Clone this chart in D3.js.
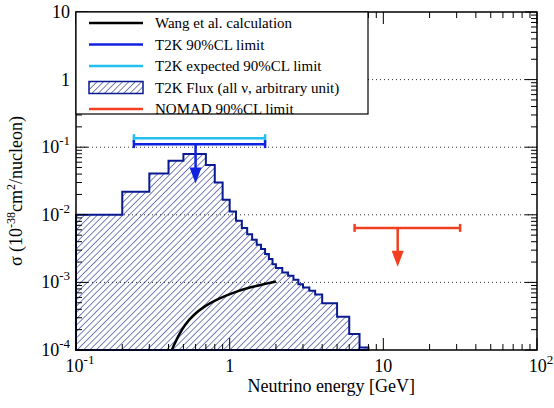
<!DOCTYPE html>
<html><head><meta charset="utf-8">
<script src="https://cdn.jsdelivr.net/npm/d3@7"></script>
<style>body{margin:0;background:#fff}text{font-family:"Liberation Serif",serif}</style>
</head><body><div id="chart"></div>
<script>
// flux histogram: bin lower edges and contents, last edge closes the final bin
const fluxEdges = [0.1,0.2,0.3,0.4,0.5,0.7,0.8,0.9,1.0,1.1,1.2,1.3,1.4,1.5,1.6,1.7,1.8,1.9,2.0,2.2,2.4,2.6,2.8,3.0,3.3,3.6,4,5,6,7,8]
const fluxValues = [0.0100,0.0219,0.0408,0.063,0.079,0.0545,0.030,0.0167,0.0112,0.00815,0.00636,0.00517,0.00427,0.0036,0.00311,0.00263,0.00221,0.00186,0.00163,0.00140,0.00125,0.00109,0.00094,0.00084,0.00075,0.00066,0.00049,0.00031,0.000172,0.000109]
const wangE = [0.42,0.5,0.67,1.0,1.35,2.0]
const wangSigma = [0.0001,0.00024,0.00045,0.00068,0.00085,0.00103]
const t2kLimit = {lo:0.238, hi:1.7, center:0.6, value:0.111, arrowTo:0.029}
const t2kExpected = {lo:0.238, hi:1.7, value:0.136}
const nomadLimit = {lo:6.5, hi:31.6, center:12.4, value:0.0064, arrowTo:0.0017}
const xTickLabels = [[0.1,"-1"],[1,""],[10,""],[100,"2"]]
const yTickLabels = [[10,""],[1,""],[0.1,"-1"],[0.01,"-2"],[0.001,"-3"],[0.0001,"-4"]]

const W = 554, H = 408
const L = 76, R = 537, T = 12, B = 350
const x = d3.scaleLog().domain([0.1,100]).range([L,R])
const y = d3.scaleLog().domain([1e-4,10]).range([B,T])

const svg = d3.select("#chart").append("svg").attr("width",W).attr("height",H)
const defs = svg.append("defs")
const pat = defs.append("pattern").attr("id","hatch").attr("patternUnits","userSpaceOnUse")
  .attr("width",4.5).attr("height",4.5).attr("patternTransform","rotate(45)")
pat.append("line").attr("x1",0).attr("y1",0).attr("x2",0).attr("y2",4.5)
  .attr("stroke","#0a1a80").attr("stroke-width",1.1)

// grid
svg.append("g").selectAll("line").data([1,0.1,0.01,0.001]).join("line")
  .attr("x1",L).attr("x2",R).attr("y1",d=>y(d)).attr("y2",d=>y(d))
  .attr("stroke","#000").attr("stroke-dasharray","1,3").attr("stroke-width",0.8)

// histogram
const pts = [[fluxEdges[0], 1e-4]]
fluxValues.forEach((v,i)=>{ pts.push([fluxEdges[i],v]); pts.push([fluxEdges[i+1],v]) })
pts.push([fluxEdges[fluxEdges.length-1],1e-4])
const hline = d3.line().x(d=>x(d[0])).y(d=>y(d[1]))
svg.append("path").attr("d",hline(pts)+"Z").attr("fill","url(#hatch)")
  .attr("stroke","#0a1a90").attr("stroke-width",2)

// Wang
svg.append("path").attr("d",d3.line().curve(d3.curveBasis).x((d,i)=>x(wangE[i])).y(d=>y(d))(wangSigma))
  .attr("fill","none").attr("stroke","#000").attr("stroke-width",2.5)

function limit(o,color,arrow){
  const g = svg.append("g").attr("stroke",color).attr("stroke-width",2.5).attr("fill","none")
  g.append("line").attr("x1",x(o.lo)).attr("x2",x(o.hi)).attr("y1",y(o.value)).attr("y2",y(o.value))
  ;[o.lo,o.hi].forEach(e=>g.append("line").attr("x1",x(e)).attr("x2",x(e)).attr("y1",y(o.value)-4).attr("y2",y(o.value)+4))
  if(arrow){
    const cx = x(o.center), y0 = y(o.value), y1 = y(o.arrowTo)
    g.append("line").attr("x1",cx).attr("x2",cx).attr("y1",y0).attr("y2",y1-10)
    svg.append("path").attr("d",`M${cx-6},${y1-16}L${cx+6},${y1-16}L${cx},${y1}Z`).attr("fill",color)
  }
}
limit(t2kExpected,"#22c0f0",false)
limit(t2kLimit,"#1022e0",true)
limit(nomadLimit,"#f04020",true)

// frame & ticks
svg.append("rect").attr("x",L).attr("y",T).attr("width",R-L).attr("height",B-T)
  .attr("fill","none").attr("stroke","#000").attr("stroke-width",1.5)
const ticks = svg.append("g").attr("stroke","#000").attr("stroke-width",1)
x.ticks().forEach(t=>{
  const major = Math.abs(Math.log10(t)-Math.round(Math.log10(t)))<1e-6
  const len = major?12:6
  ticks.append("line").attr("x1",x(t)).attr("x2",x(t)).attr("y1",B).attr("y2",B-len)
  ticks.append("line").attr("x1",x(t)).attr("x2",x(t)).attr("y1",T).attr("y2",T+len)
})
y.ticks().forEach(t=>{
  const major = Math.abs(Math.log10(t)-Math.round(Math.log10(t)))<1e-6
  const len = major?12:6
  ticks.append("line").attr("y1",y(t)).attr("y2",y(t)).attr("x1",L).attr("x2",L+len)
  ticks.append("line").attr("y1",y(t)).attr("y2",y(t)).attr("x1",R).attr("x2",R-len)
})

function powLabel(g,v,sup){
  const base = v>=10||v<1 ? "10" : "1"
  const t = g.append("text").attr("font-size",18)
  t.append("tspan").text(base)
  if(sup) t.append("tspan").attr("dy",-8).attr("font-size",13).text(sup)
  return t
}
xTickLabels.forEach(([v,s])=>{
  const g = svg.append("g")
  const t = powLabel(g,v,s).attr("y",B+22)
  const w = t.node().getComputedTextLength()
  t.attr("x",x(v)-(s?w/2-4:w/2))
})
yTickLabels.forEach(([v,s])=>{
  const g = svg.append("g")
  const t = powLabel(g,v,s).attr("y",y(v)+6)
  const w = t.node().getComputedTextLength()
  t.attr("x",L-6-w)
})

svg.append("text").attr("x",R-122).attr("y",392).attr("text-anchor","end").attr("font-size",18)
  .text("Neutrino energy [GeV]")
const yt = svg.append("text").attr("transform",`translate(22,${(T+B)/2+10}) rotate(-90)`)
  .attr("text-anchor","middle").attr("font-size",18)
yt.append("tspan").text("σ (10")
yt.append("tspan").attr("dy",-7).attr("font-size",12).text("-38")
yt.append("tspan").attr("dy",7).text("cm")
yt.append("tspan").attr("dy",-7).attr("font-size",12).text("2")
yt.append("tspan").attr("dy",7).text("/nucleon)")

// legend
const lg = svg.append("g")
lg.append("rect").attr("x",L).attr("y",T).attr("width",292).attr("height",102)
  .attr("fill","#fff").attr("stroke","#000").attr("stroke-width",1.2)
const items = [
  ["Wang et al. calculation","#000","line"],
  ["T2K 90%CL limit","#1022e0","line"],
  ["T2K expected 90%CL limit","#22c0f0","line"],
  ["T2K Flux (all ν, arbitrary unit)","#0a1a90","box"],
  ["NOMAD 90%CL limit","#f04020","line"]]
items.forEach((d,i)=>{
  const yy = T+11+i*21.5
  if(d[2]==="line") lg.append("line").attr("x1",L+13).attr("x2",L+67).attr("y1",yy).attr("y2",yy)
    .attr("stroke",d[1]).attr("stroke-width",2.5)
  else lg.append("rect").attr("x",L+13).attr("y",yy-6).attr("width",54).attr("height",12)
    .attr("fill","url(#hatch)").attr("stroke",d[1]).attr("stroke-width",1.5)
  lg.append("text").attr("x",L+79).attr("y",yy+5).attr("font-size",15).text(d[0])
})
</script></body></html>
